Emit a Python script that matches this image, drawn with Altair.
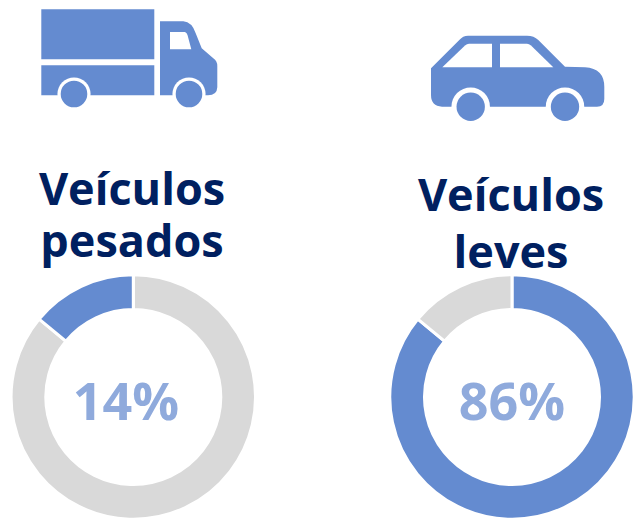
import altair as alt
import pandas as pd

BLUE = "#648BD0"
GRAY = "#D9D9D9"
NAVY = "#002060"
PCT = "#8FAADC"
FONT = "Open Sans"

groups = ["Veículos pesados", "Veículos leves"]
pesados_vals = [86, 14]
leves_vals = [86, 14]
pesados_cols = [GRAY, BLUE]
leves_cols = [BLUE, GRAY]
pct_labels = ["14%", "86%"]

OX, OY = 8, 8  # page margin


def path(cmds):
    """Shift page-pixel path commands into the chart's pixel frame."""
    out = []
    for c in cmds:
        if isinstance(c, str):
            out.append(c)
        else:
            out.append(f"{c[0]-OX:.1f},{c[1]-OY:.1f}")
    return " ".join(out)


def rect(x0, y0, x1, y1):
    return path(["M", (x0, y0), "L", (x1, y0), "L", (x1, y1), "L", (x0, y1), "Z"])


truck_blue = [
    rect(41.3, 9.3, 154.3, 59.3),
    rect(41.3, 65.3, 154.3, 95.3),
    path(["M", (160, 21.3), "L", (183.3, 21.3), "Q", (192, 22), (195.7, 33.3),
          "L", (201.7, 48.3), "L", (213.3, 58.3), "Q", (217.3, 61), (217.3, 66),
          "L", (217.3, 87.3), "Q", (217, 95.3), (208, 95.3), "L", (160, 95.3), "Z"]),
]
truck_white = [
    path(["M", (170, 32), "L", (185, 32), "Q", (187, 33), (187.5, 35),
          "L", (191.3, 49.3), "L", (170, 49.3), "Z"]),
]
truck_wheels = [(74, 94, 15, 18.7), (189, 94, 15, 18.7)]

car_blue = [
    path(["M", (431, 68.3), "L", (459.3, 40), "Q", (463, 35.7), (468, 35.7),
          "L", (527, 35.7), "Q", (534, 35.7), (538.3, 40), "L", (565, 66.7),
          "L", (585, 67.3), "Q", (604.3, 68.5), (604.3, 87), "L", (604.3, 99),
          "Q", (604.3, 106.7), (597, 106.7), "L", (442, 106.7),
          "Q", (431, 106), (431, 95), "Z"]),
]
car_white = [
    path(["M", (442.3, 67.3), "L", (465, 45.5), "Q", (467, 43.7), (469, 43.7),
          "L", (492, 43.7), "L", (492, 67.3), "Z"]),
    path(["M", (500, 43.7), "L", (527, 43.7), "Q", (529, 43.7), (531, 45.5),
          "L", (553.3, 67.3), "L", (500, 67.3), "Z"]),
]
car_wheels = [(470.7, 106.7, 16, 21.7), (565, 106.7, 16, 21.7)]

one = pd.DataFrame({"a": [0]})


def shape(d, color):
    return alt.Chart(one).mark_point(
        shape=d, size=4, filled=True, fill=color, stroke=None, opacity=1
    ).encode(x=alt.value(0), y=alt.value(0))


def circle(cx, cy, r, color):
    return alt.Chart(one).mark_point(
        shape="circle", size=3.14159 * r * r, filled=True, fill=color, stroke=None, opacity=1
    ).encode(x=alt.value(cx - OX), y=alt.value(cy - OY))


def label(t, cx, base, size, color):
    return alt.Chart(one).mark_text(
        text=t, font=FONT, fontSize=size, fontWeight="bold", color=color,
        align="center", baseline="alphabetic",
    ).encode(x=alt.value(cx - OX), y=alt.value(base - OY))


def donut(name, vals, cols, cx, cy):
    df = pd.DataFrame({"v": vals, "c": cols, "o": list(range(len(vals))), "g": name})
    return alt.Chart(df).mark_arc(
        outerRadius=122.2, innerRadius=87.5, stroke="white", strokeWidth=3
    ).encode(
        theta=alt.Theta("v:Q", stack=True),
        color=alt.Color("c:N", scale=None, legend=None),
        order=alt.Order("o:Q"),
        x=alt.value(cx - OX),
        y=alt.value(cy - OY),
    )


layers = []
for d in truck_blue + car_blue:
    layers.append(shape(d, BLUE))
for d in truck_white + car_white:
    layers.append(shape(d, "white"))
for cx, cy, r, rc in truck_wheels + car_wheels:
    layers.append(circle(cx, cy, rc, "white"))
    layers.append(circle(cx, cy, r, BLUE))

layers += [
    label("Veículos", 132, 205, 45, NAVY),
    label("pesados", 132, 257, 45, NAVY),
    label("Veículos", 511, 211, 45, NAVY),
    label("leves", 511, 268, 45, NAVY),
    donut(groups[0], pesados_vals, pesados_cols, 133.3, 397),
    donut(groups[1], leves_vals, leves_cols, 512, 397),
    label(pct_labels[0], 126, 420, 52, PCT),
    label(pct_labels[1], 512, 420, 52, PCT),
]

chart = alt.layer(*layers).properties(
    width=625, height=511, padding=0, autosize=alt.AutoSizeParams(type="none"), background="white"
).configure_view(stroke=None)

chart.save("out.html", embed_options={"renderer": "svg", "actions": False})
